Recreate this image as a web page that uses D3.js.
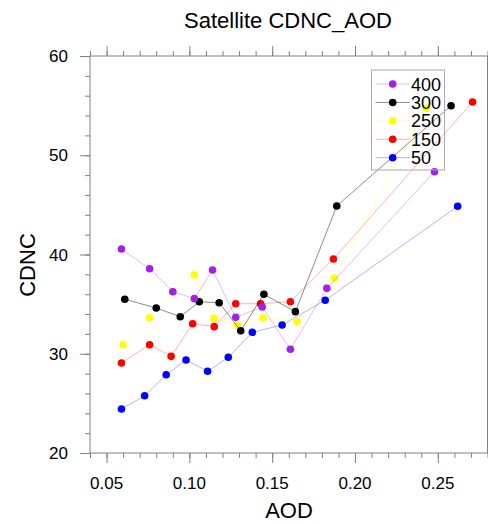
<!DOCTYPE html>
<html>
<head>
<meta charset="utf-8">
<script src="https://cdn.jsdelivr.net/npm/d3@7"></script>
<style>
  html, body { margin: 0; padding: 0; background: #fff; }
  svg text { font-family: "Liberation Sans", Arial, Helvetica, sans-serif; fill: #000; }
</style>
</head>
<body>
<svg id="chart" width="488" height="524"></svg>
<script>
// series values
const aod400  = [0.059, 0.076, 0.090, 0.103, 0.114, 0.128, 0.144, 0.161, 0.183, 0.248];
const cdnc400 = [40.55, 38.57, 36.25, 35.55, 38.44, 33.67, 34.71, 30.45, 36.59, 48.34];
const aod300  = [0.061, 0.080, 0.0945, 0.106, 0.118, 0.131, 0.145, 0.164, 0.189, 0.258];
const cdnc300 = [35.49, 34.61, 33.73, 35.24, 35.14, 32.32, 35.99, 34.24, 44.89, 54.99];
const aod250  = [0.060, 0.076, 0.090, 0.103, 0.115, 0.129, 0.1445, 0.165, 0.1875, 0.243];
const cdnc250 = [30.91, 33.63, 36.25, 37.96, 33.57, 32.87, 33.63, 33.23, 37.60, 54.73];
const aod150  = [0.059, 0.076, 0.089, 0.102, 0.115, 0.128, 0.143, 0.161, 0.187, 0.271];
const cdnc150 = [29.07, 30.91, 29.74, 33.03, 32.73, 35.04, 35.04, 35.24, 39.55, 55.37];
const aod50   = [0.059, 0.073, 0.086, 0.098, 0.111, 0.1235, 0.138, 0.156, 0.182, 0.262];
const cdnc50  = [24.43, 25.77, 27.89, 29.37, 28.23, 29.64, 32.16, 32.90, 35.39, 44.86];

const seriesNames = ['400', '300', '250', '150', '50'];
const seriesColors = ['#a020f0', '#000000', '#ffff00', '#ff0000', '#0000ff'];

const xTicks = [0.05, 0.10, 0.15, 0.20, 0.25];
const yTicks = [20, 30, 40, 50, 60];

const series = [
  { name: '400', x: aod400, y: cdnc400 },
  { name: '300', x: aod300, y: cdnc300 },
  { name: '250', x: aod250, y: cdnc250 },
  { name: '150', x: aod150, y: cdnc150 },
  { name: '50',  x: aod50,  y: cdnc50 }
];

const M = { left: 90, right: 487.5, top: 56, bottom: 453 };
const AXIS_COLOR = '#808080';

const svg = d3.select('#chart');

const x = d3.scaleLinear().domain([0.04, 0.28]).range([M.left, M.right]);
const y = d3.scaleLinear().domain([20, 60]).range([M.bottom, M.top]);

// title
svg.append('text')
  .attr('x', 288).attr('y', 28)
  .attr('text-anchor', 'middle')
  .style('font-size', '22px')
  .text('Satellite CDNC_AOD');

// axes (ticks point outward, NCL style)
function styleAxis(g) {
  g.select('.domain').remove();
  g.selectAll('line').attr('stroke', AXIS_COLOR);
  g.selectAll('text').remove();
}

const xMinor = d3.range(4, 29).map(d => d / 100);
const yMinor = d3.range(20, 61, 2);

svg.append('g').attr('transform', `translate(0,${M.bottom})`)
  .call(d3.axisBottom(x).tickValues(xMinor).tickSize(5)).call(styleAxis);
svg.append('g').attr('transform', `translate(0,${M.bottom})`)
  .call(d3.axisBottom(x).tickValues(xTicks).tickSize(10)).call(styleAxis);
svg.append('g').attr('transform', `translate(0,${M.top})`)
  .call(d3.axisTop(x).tickValues(xMinor).tickSize(5)).call(styleAxis);
svg.append('g').attr('transform', `translate(0,${M.top})`)
  .call(d3.axisTop(x).tickValues(xTicks).tickSize(10)).call(styleAxis);
svg.append('g').attr('transform', `translate(${M.left},0)`)
  .call(d3.axisLeft(y).tickValues(yMinor).tickSize(5)).call(styleAxis);
svg.append('g').attr('transform', `translate(${M.left},0)`)
  .call(d3.axisLeft(y).tickValues(yTicks).tickSize(10)).call(styleAxis);

// frame
svg.append('rect')
  .attr('x', M.left).attr('y', M.top)
  .attr('width', M.right - M.left).attr('height', M.bottom - M.top)
  .attr('fill', 'none').attr('stroke', AXIS_COLOR);

// tick labels
svg.append('g').selectAll('text')
  .data(xTicks)
  .join('text')
  .attr('x', d => x(d)).attr('y', 489)
  .attr('text-anchor', 'middle')
  .style('font-size', '17px')
  .text(d => d3.format('.2f')(d));

svg.append('g').selectAll('text')
  .data(yTicks)
  .join('text')
  .attr('x', 68).attr('y', d => y(d) + 6)
  .attr('text-anchor', 'end')
  .style('font-size', '17px')
  .text(d => d);

// axis titles
svg.append('text')
  .attr('x', 289).attr('y', 518)
  .attr('text-anchor', 'middle')
  .style('font-size', '22px')
  .text('AOD');

svg.append('text')
  .attr('transform', 'translate(35,265) rotate(-90)')
  .attr('text-anchor', 'middle')
  .style('font-size', '22px')
  .text('CDNC');

// series, drawn bottom of legend first so purple sits on top
const line = d3.line().x(d => x(d[0])).y(d => y(d[1]));
const order = series.map((s, i) => i).reverse();

const plot = svg.append('g');
order.forEach(i => {
  const s = series[i];
  const pts = s.x.map((v, k) => [v, s.y[k]]);
  const color = seriesColors[i];
  plot.append('path')
    .datum(pts)
    .attr('d', line)
    .attr('fill', 'none')
    .attr('stroke', color)
    .attr('stroke-opacity', color === '#000000' ? 0.45 : 0.3)
    .attr('stroke-width', 1);
  plot.append('g').selectAll('circle')
    .data(pts)
    .join('circle')
    .attr('cx', d => x(d[0]))
    .attr('cy', d => y(d[1]))
    .attr('r', 3.8)
    .attr('fill', color);
});

// legend (no fill, as in the original)
const legend = svg.append('g');
legend.append('rect')
  .attr('x', 371.5).attr('y', 70)
  .attr('width', 73).attr('height', 100)
  .attr('fill', 'none').attr('stroke', '#aaaaaa');

const ly = d3.scalePoint().domain(seriesNames).range([84, 157.7]);
seriesNames.forEach((name, i) => {
  const color = seriesColors[i];
  legend.append('line')
    .attr('x1', 375.5).attr('x2', 410)
    .attr('y1', ly(name)).attr('y2', ly(name))
    .attr('stroke', color)
    .attr('stroke-opacity', color === '#000000' ? 0.45 : 0.3);
  legend.append('circle')
    .attr('cx', 392.7).attr('cy', ly(name))
    .attr('r', 3.8).attr('fill', color);
  legend.append('text')
    .attr('x', 411).attr('y', ly(name) + 6.5)
    .style('font-size', '18px')
    .text(name);
});
</script>
</body>
</html>
